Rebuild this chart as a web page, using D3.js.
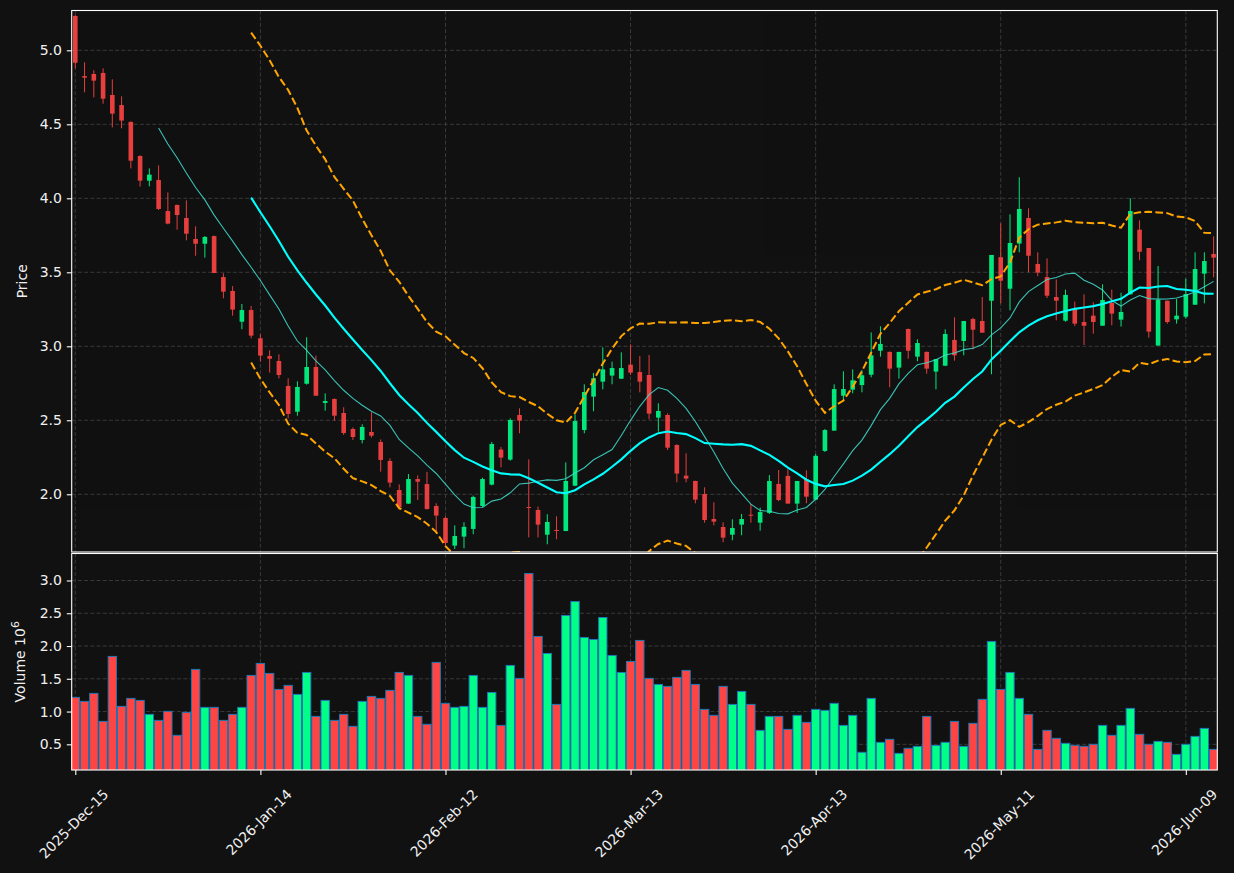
<!DOCTYPE html>
<html>
<head>
<meta charset="utf-8">
<script src="https://cdn.jsdelivr.net/npm/d3@7"></script>
<style>
  body { margin: 0; background: #111111; }
  svg text { font-family: "DejaVu Sans", sans-serif; fill: #f0f0f0; }
</style>
</head>
<body>
<svg id="canvas"></svg>
<script>
// trading days
let dates = [
  "2025-12-15","2025-12-16","2025-12-17","2025-12-18","2025-12-19","2025-12-22","2025-12-23","2025-12-24","2025-12-26","2025-12-29","2025-12-30","2025-12-31",
  "2026-01-02","2026-01-05","2026-01-06","2026-01-07","2026-01-08","2026-01-09","2026-01-12","2026-01-13","2026-01-14","2026-01-15","2026-01-16","2026-01-20","2026-01-21","2026-01-22","2026-01-23","2026-01-26","2026-01-27","2026-01-28","2026-01-29","2026-01-30",
  "2026-02-02","2026-02-03","2026-02-04","2026-02-05","2026-02-06","2026-02-09","2026-02-10","2026-02-11","2026-02-12","2026-02-13","2026-02-17","2026-02-18","2026-02-19","2026-02-20","2026-02-23","2026-02-24","2026-02-25","2026-02-26","2026-02-27",
  "2026-03-02","2026-03-03","2026-03-04","2026-03-05","2026-03-06","2026-03-09","2026-03-10","2026-03-11","2026-03-12","2026-03-13","2026-03-16","2026-03-17","2026-03-18","2026-03-19","2026-03-20","2026-03-23","2026-03-24","2026-03-25","2026-03-26","2026-03-27","2026-03-30","2026-03-31",
  "2026-04-01","2026-04-02","2026-04-06","2026-04-07","2026-04-08","2026-04-09","2026-04-10","2026-04-13","2026-04-14","2026-04-15","2026-04-16","2026-04-17","2026-04-20","2026-04-21","2026-04-22","2026-04-23","2026-04-24","2026-04-27","2026-04-28","2026-04-29","2026-04-30",
  "2026-05-01","2026-05-04","2026-05-05","2026-05-06","2026-05-07","2026-05-08","2026-05-11","2026-05-12","2026-05-13","2026-05-14","2026-05-15","2026-05-18","2026-05-19","2026-05-20","2026-05-21","2026-05-22","2026-05-26","2026-05-27","2026-05-28","2026-05-29",
  "2026-06-01","2026-06-02","2026-06-03","2026-06-04","2026-06-05","2026-06-08","2026-06-09","2026-06-10","2026-06-11","2026-06-12"
];

let opens = [5.232,4.826,4.840,4.847,4.698,4.630,4.516,4.286,4.119,4.124,3.914,3.955,3.867,3.725,3.693,3.745,3.468,3.374,3.166,3.245,
  3.054,2.934,2.901,2.732,2.558,2.747,2.860,2.617,2.644,2.549,2.441,2.367,2.421,2.353,2.225,2.029,1.937,2.103,2.069,1.921,
  1.840,1.653,1.714,1.766,1.921,2.065,2.302,2.234,2.536,1.914,1.894,1.727,1.759,1.752,2.058,2.434,2.660,2.761,2.802,2.781,
  2.876,2.826,2.806,2.518,2.536,2.333,2.126,2.090,2.002,1.833,1.779,1.727,1.795,1.862,1.808,1.874,2.070,2.124,1.937,2.103,
  1.964,2.293,2.430,2.666,2.707,2.738,2.808,2.970,2.962,2.856,3.117,2.930,2.962,2.829,2.869,3.043,3.036,3.184,3.171,3.308,
  3.602,3.389,3.694,3.867,3.556,3.468,3.333,3.173,3.252,3.164,3.207,3.139,3.293,3.180,3.351,3.788,3.664,3.005,3.308,3.182,
  3.200,3.281,3.491,3.624];
let highs = [5.240,4.919,4.865,4.878,4.804,4.689,4.520,4.290,4.202,4.223,4.040,3.958,3.986,3.811,3.745,3.748,3.493,3.407,3.286,3.272,
  3.081,2.973,2.946,2.784,2.763,3.061,2.937,2.682,2.648,2.588,2.452,2.473,2.554,2.371,2.243,2.067,2.137,2.128,2.151,1.939,
  1.850,1.790,1.811,1.991,2.112,2.353,2.320,2.513,2.581,2.236,1.917,1.865,1.851,2.216,2.540,2.743,2.820,2.993,2.896,2.959,
  3.013,2.935,2.941,2.615,2.547,2.338,2.277,2.092,2.047,1.946,1.811,1.831,1.867,1.934,1.910,2.130,2.164,2.169,2.090,2.162,
  2.272,2.441,2.743,2.831,2.844,2.840,3.094,3.135,2.965,2.962,3.120,3.047,2.965,2.914,3.115,3.196,3.171,3.193,3.333,3.617,
  3.831,3.892,4.142,3.932,3.635,3.594,3.452,3.383,3.302,3.351,3.297,3.419,3.383,3.362,4.000,3.851,3.664,3.543,3.308,3.320,
  3.457,3.635,3.635,3.743];
let lows = [4.878,4.716,4.682,4.639,4.479,4.473,4.202,4.079,4.081,3.921,3.824,3.788,3.716,3.612,3.599,3.495,3.324,3.207,3.115,3.054,
  2.896,2.822,2.783,2.513,2.531,2.741,2.666,2.565,2.497,2.401,2.367,2.344,2.383,2.153,2.047,1.895,1.935,1.961,1.896,1.736,
  1.655,1.630,1.635,1.730,1.915,2.060,2.182,2.227,2.412,1.709,1.709,1.662,1.696,1.750,2.055,2.412,2.561,2.709,2.743,2.779,
  2.806,2.689,2.507,2.423,2.299,2.081,2.081,1.939,1.808,1.790,1.676,1.689,1.723,1.808,1.754,1.867,1.953,1.937,1.874,1.939,
  1.962,2.286,2.430,2.633,2.682,2.689,2.790,2.930,2.723,2.781,2.916,2.899,2.815,2.709,2.866,2.903,2.939,2.979,3.092,2.811,
  3.290,3.243,3.635,3.500,3.473,3.326,3.175,3.166,3.137,3.009,3.085,3.139,3.142,3.133,3.351,3.581,3.058,3.005,3.153,3.153,
  3.187,3.281,3.290,3.466];
let closes = [4.916,4.815,4.795,4.673,4.572,4.525,4.254,4.119,4.160,3.928,3.829,3.887,3.761,3.693,3.739,3.495,3.369,3.248,3.245,3.072,
  2.937,2.916,2.806,2.543,2.725,2.860,2.666,2.630,2.531,2.414,2.387,2.455,2.396,2.232,2.079,1.912,2.103,2.085,1.901,1.856,
  1.671,1.718,1.780,1.982,2.103,2.340,2.248,2.502,2.498,1.910,1.795,1.813,1.752,2.090,2.495,2.691,2.784,2.844,2.853,2.853,
  2.822,2.761,2.545,2.563,2.315,2.140,2.106,1.964,1.826,1.815,1.707,1.772,1.833,1.856,1.880,2.090,1.961,1.937,2.090,1.984,
  2.260,2.434,2.711,2.711,2.770,2.804,2.939,3.016,2.849,2.962,2.970,3.022,2.849,2.914,3.083,2.939,3.171,3.112,3.092,3.617,
  3.443,3.698,3.928,3.612,3.498,3.342,3.308,3.347,3.153,3.139,3.164,3.313,3.221,3.232,3.914,3.639,3.099,3.313,3.164,3.207,
  3.353,3.522,3.576,3.599];
// volume in millions
let volumes = [1.216,1.155,1.277,0.850,1.841,1.079,1.201,1.170,0.957,0.865,1.003,0.637,0.987,1.643,1.064,1.064,0.865,0.957,1.064,1.551,
  1.734,1.582,1.338,1.399,1.262,1.597,0.926,1.170,0.865,0.957,0.774,1.155,1.231,1.201,1.323,1.597,1.551,0.926,0.805,1.750,
  1.125,1.064,1.079,1.551,1.064,1.292,0.789,1.704,1.506,3.106,2.146,1.887,1.109,2.466,2.679,2.131,2.100,2.435,1.856,1.597,
  1.765,2.085,1.506,1.414,1.384,1.521,1.628,1.414,1.033,0.942,1.384,1.109,1.307,1.109,0.713,0.926,0.926,0.728,0.942,0.835,
  1.033,1.018,1.125,0.789,0.942,0.378,1.201,0.530,0.576,0.362,0.439,0.469,0.926,0.484,0.530,0.850,0.469,0.820,1.186,2.070,
  1.338,1.597,1.201,0.957,0.423,0.713,0.591,0.515,0.484,0.469,0.500,0.789,0.637,0.789,1.048,0.652,0.500,0.545,0.530,0.347,
  0.500,0.621,0.743,0.423];

let priceTicks = [2.0, 2.5, 3.0, 3.5, 4.0, 4.5, 5.0];
let volumeTicks = [0.5, 1.0, 1.5, 2.0, 2.5, 3.0];
let dateTickIndex = [0, 20, 40, 60, 80, 100, 120];

let width = 1234;
let height = 873;
let left = 71.7;
let right = 1217.3;
let priceTop = 10.5;
let priceBottom = 552;
let volTop = 553.5;
let volBottom = 770;

let upColor = '#00ff88';
let downColor = '#ff4444';
let gridColor = '#3a3a3a';

let svg = d3.select('#canvas').attr('width', width).attr('height', height);
svg.append('rect').attr('width', width).attr('height', height).attr('fill', '#111111');

let n = dates.length;
let parseDate = d3.timeParse('%Y-%m-%d');
let fmtDate = d3.timeFormat('%Y-%b-%d');

let xScale = d3.scaleLinear().domain([-0.39, n - 0.6]).range([left, right]);
let yScale = d3.scaleLinear().domain([1.610, 5.269]).range([priceBottom, priceTop]);
let vScale = d3.scaleLinear().domain([0.108, 3.412]).range([volBottom, volTop]);
let step = xScale(1) - xScale(0);

let bars = d3.range(n).map(i => ({i: i, o: opens[i], h: highs[i], l: lows[i], c: closes[i], v: volumes[i]}));

// rolling stats from the closes
let rolling = (arr, k, fn) => arr.map((v, i) => i < k - 1 ? null : fn(arr.slice(i - k + 1, i + 1)));
let ma10 = rolling(closes, 10, a => d3.mean(a));
let ma20 = rolling(closes, 20, a => d3.mean(a));
let sd20 = rolling(closes, 20, a => { let m = d3.mean(a); return Math.sqrt(d3.mean(a, v => (v - m) * (v - m))); });
let bbUp = ma20.map((m, i) => m == null ? null : m + 2 * sd20[i]);
let bbDn = ma20.map((m, i) => m == null ? null : m - 2 * sd20[i]);

let defs = svg.append('defs');
defs.append('clipPath').attr('id', 'clipPrice').append('rect')
    .attr('x', left).attr('y', priceTop).attr('width', right - left).attr('height', priceBottom - priceTop);
defs.append('clipPath').attr('id', 'clipVol').append('rect')
    .attr('x', left).attr('y', volTop).attr('width', right - left).attr('height', volBottom - volTop);

// grid
let grid = svg.append('g').attr('stroke', gridColor).attr('stroke-width', 1).attr('stroke-dasharray', '4,2.2');
priceTicks.forEach(t => grid.append('line').attr('x1', left).attr('x2', right).attr('y1', yScale(t)).attr('y2', yScale(t)));
volumeTicks.forEach(t => grid.append('line').attr('x1', left).attr('x2', right).attr('y1', vScale(t)).attr('y2', vScale(t)));
dateTickIndex.forEach(t => {
  grid.append('line').attr('x1', xScale(t)).attr('x2', xScale(t)).attr('y1', priceTop).attr('y2', priceBottom);
  grid.append('line').attr('x1', xScale(t)).attr('x2', xScale(t)).attr('y1', volTop).attr('y2', volBottom);
});

// candles
let pricePlot = svg.append('g').attr('clip-path', 'url(#clipPrice)');
let candles = pricePlot.append('g').attr('opacity', 0.9);
candles.selectAll('line')
    .data(bars)
    .enter()
    .append('line')
    .attr('x1', d => xScale(d.i)).attr('x2', d => xScale(d.i))
    .attr('y1', d => yScale(d.h)).attr('y2', d => yScale(d.l))
    .attr('stroke', d => d.c >= d.o ? upColor : downColor)
    .attr('stroke-width', 1);
candles.selectAll('rect')
    .data(bars)
    .enter()
    .append('rect')
    .attr('x', d => xScale(d.i) - step * 0.25)
    .attr('width', step * 0.5)
    .attr('y', d => yScale(Math.max(d.o, d.c)))
    .attr('height', d => Math.max(1, Math.abs(yScale(d.o) - yScale(d.c))))
    .attr('fill', d => d.c >= d.o ? upColor : downColor);

let line = d3.line()
    .defined(d => d != null)
    .x((d, i) => xScale(i))
    .y(d => yScale(d));

pricePlot.append('path').datum(ma10).attr('d', line)
    .attr('fill', 'none').attr('stroke', '#40e0d0').attr('stroke-opacity', 0.85).attr('stroke-width', 1.1);
pricePlot.append('path').datum(ma20).attr('d', line)
    .attr('fill', 'none').attr('stroke', '#00ffff').attr('stroke-width', 2.1);
[bbUp, bbDn].forEach(b => {
  pricePlot.append('path').datum(b).attr('d', line)
      .attr('fill', 'none').attr('stroke', '#ffa500').attr('stroke-width', 2)
      .attr('stroke-dasharray', '7.7,3.3');
});

// volume
svg.append('g').attr('clip-path', 'url(#clipVol)')
    .selectAll('rect')
    .data(bars)
    .enter()
    .append('rect')
    .attr('x', d => xScale(d.i) - step * 0.45)
    .attr('width', step * 0.9)
    .attr('y', d => vScale(d.v))
    .attr('height', d => vScale(0) - vScale(d.v))
    .attr('fill', d => d.c >= d.o ? upColor : downColor)
    .attr('stroke', '#1f77b4')
    .attr('stroke-width', 1);

// frames
[[priceTop, priceBottom], [volTop, volBottom]].forEach(p => {
  svg.append('rect').attr('x', left).attr('y', p[0]).attr('width', right - left).attr('height', p[1] - p[0])
      .attr('fill', 'none').attr('stroke', '#ffffff').attr('stroke-width', 1.1);
});

// axes
let styleAxis = g => {
  g.select('.domain').remove();
  g.selectAll('.tick line').attr('stroke', '#ffffff').attr('stroke-width', 1.1);
  g.selectAll('.tick text').attr('fill', '#f0f0f0').style('font-size', '14px').style('font-family', '"DejaVu Sans", sans-serif');
};
svg.append('g').attr('transform', 'translate(' + left + ',0)')
    .call(d3.axisLeft(yScale).tickValues(priceTicks).tickFormat(d3.format('.1f')).tickSize(4.9).tickPadding(4.9))
    .call(styleAxis);
svg.append('g').attr('transform', 'translate(' + left + ',0)')
    .call(d3.axisLeft(vScale).tickValues(volumeTicks).tickFormat(d3.format('.1f')).tickSize(4.9).tickPadding(4.9))
    .call(styleAxis);
let xAxis = svg.append('g').attr('transform', 'translate(0,' + volBottom + ')')
    .call(d3.axisBottom(xScale).tickValues(dateTickIndex).tickFormat(i => fmtDate(parseDate(dates[i]))).tickSize(4.9))
    .call(styleAxis);

// rotate the date labels 45deg, bbox centred on the tick, top just under it
xAxis.selectAll('.tick text').each(function() {
  let t = d3.select(this);
  let L = this.getComputedTextLength();
  let h = 16.3;
  let cy = 16 + (L + h) / (2 * Math.SQRT2);
  t.attr('y', null).attr('dy', null)
   .attr('text-anchor', 'middle')
   .attr('dominant-baseline', 'central')
   .attr('transform', 'translate(-2,' + cy + ') rotate(-45)');
});

// axis titles
svg.append('text')
    .attr('transform', 'translate(27,' + ((priceTop + priceBottom) / 2) + ') rotate(-90)')
    .attr('text-anchor', 'middle')
    .style('font-size', '14px')
    .text('Price');
let vt = svg.append('text')
    .attr('transform', 'translate(25,' + ((volTop + volBottom) / 2) + ') rotate(-90)')
    .attr('text-anchor', 'middle')
    .style('font-size', '14px');
vt.append('tspan').text('Volume  10');
vt.append('tspan').attr('dy', -6).style('font-size', '11px').text('6');
</script>
</body>
</html>
